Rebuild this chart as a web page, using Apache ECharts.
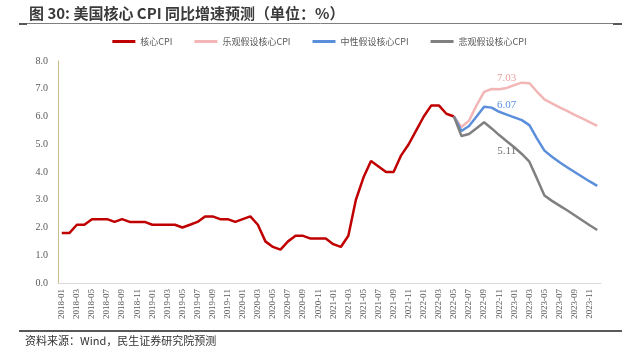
<!DOCTYPE html>
<html>
<head>
<meta charset="utf-8">
<script src="https://cdn.jsdelivr.net/npm/echarts@6/dist/echarts.min.js"></script>
<style>
html,body{margin:0;padding:0;background:#fff;}
#c{width:639px;height:358px;}
</style>
</head>
<body>
<div id="c"></div>
<script>
// ---- data ----
var months = (function(){
  var out = [];
  for (var y = 2018; y <= 2023; y++) {
    for (var m = 1; m <= 12; m++) out.push(y + '-' + (m < 10 ? '0' + m : m));
  }
  return out;
})();
var seriesNames = ['核心CPI', '乐观假设核心CPI', '中性假设核心CPI', '悲观假设核心CPI'];
// 核心CPI: 2018-01 .. 2022-05
var coreCPI = [
  1.8,1.8,2.1,2.1,2.3,2.3,2.3,2.2,2.3,2.2,2.2,2.2,
  2.1,2.1,2.1,2.1,2.0,2.1,2.2,2.4,2.4,2.3,2.3,2.2,
  2.3,2.4,2.1,1.5,1.3,1.2,1.5,1.7,1.7,1.6,1.6,1.6,
  1.4,1.3,1.7,3.0,3.8,4.4,4.2,4.0,4.0,4.6,5.0,5.5,
  6.0,6.4,6.4,6.1,6.0
];
// forecasts: 2022-05 .. 2023-12
var optimistic = [6.0,5.62,5.85,6.4,6.89,6.99,6.98,7.03,7.13,7.22,7.2,6.9,6.62,6.47,6.33,6.2,6.06,5.93,5.8,5.66];
var neutral    = [6.0,5.48,5.66,6.0,6.35,6.32,6.17,6.07,5.97,5.87,5.69,5.21,4.77,4.55,4.35,4.17,4.0,3.83,3.66,3.5];
var pessimistic= [6.0,5.3,5.37,5.58,5.79,5.57,5.33,5.11,4.89,4.65,4.37,3.77,3.15,2.96,2.79,2.62,2.44,2.26,2.08,1.91];
var forecastStart = '2022-05';
var labelMonth = '2022-12';
var yTicks = [0,1,2,3,4,5,6,7,8];

// ---- build ----
var startIdx = months.indexOf(forecastStart);
var labelIdx = months.indexOf(labelMonth);
function pad(arr, start){
  var out = [];
  for (var i = 0; i < months.length; i++) {
    var k = i - start;
    out.push(k >= 0 && k < arr.length ? arr[k] : '-');
  }
  return out;
}
function withLabel(arr, pos, color){
  return arr.map(function(v, i){
    if (i === labelIdx) {
      return {value: v, label: {show: true, position: pos, distance: 4, color: color, fontFamily: 'Liberation Serif', fontSize: 11, formatter: function(p){ return Number(p.value).toFixed(2); }}};
    }
    return v;
  });
}
var colors = ['#C00000', '#F2B6B6', '#5B8FDB', '#808080'];
var FONT = '"Liberation Serif", "Noto Sans CJK SC", serif';

var chart = echarts.init(document.getElementById('c'), null, {renderer: 'canvas'});
function lineSeries(name, data, color, z){
  return {name: name, type: 'line', data: data, symbol: 'circle', symbolSize: 0.01, showSymbol: true,
    itemStyle: {color: color}, lineStyle: {width: 2.5, color: color}, z: z};
}
chart.setOption({
  animation: false,
  backgroundColor: '#fff',
  color: colors,
  title: {
    text: '图 30: 美国核心 CPI 同比增速预测（单位：%）',
    left: 24, top: 1,
    textStyle: {fontFamily: '"Noto Sans CJK SC"', fontSize: 15, fontWeight: 'bold', color: '#3a3a3a'}
  },
  graphic: [
    {type: 'line', shape: {x1: 19, y1: 23.5, x2: 622, y2: 23.5}, style: {stroke: '#7f7f7f', lineWidth: 1}},
    {type: 'line', shape: {x1: 19, y1: 24, x2: 27, y2: 24}, style: {stroke: '#595959', lineWidth: 2}},
    {type: 'line', shape: {x1: 613, y1: 24, x2: 622, y2: 24}, style: {stroke: '#595959', lineWidth: 2}},
    {type: 'line', shape: {x1: 19, y1: 331, x2: 622, y2: 331}, style: {stroke: '#595959', lineWidth: 2}},
    {type: 'text', left: 25, top: 335, style: {text: '资料来源：Wind，民生证券研究院预测', fontFamily: '"Noto Sans CJK SC"', fontSize: 11, fill: '#333'}}
  ],
  legend: {
    top: 32, left: 'center',
    itemWidth: 23, itemHeight: 3, itemGap: 22,
    icon: 'rect',
    data: seriesNames,
    textStyle: {fontFamily: '"Noto Sans CJK SC"', fontSize: 9, color: '#595959'}
  },
  grid: {left: 58, right: 38, top: 61, bottom: 75},
  xAxis: {
    type: 'category',
    boundaryGap: true,
    data: months,
    axisLine: {lineStyle: {color: '#D9D9D9', width: 1}},
    axisTick: {show: false},
    axisLabel: {interval: 1, rotate: 90, fontFamily: FONT, fontSize: 9, color: '#595959', margin: 6}
  },
  yAxis: {
    type: 'value',
    min: yTicks[0], max: yTicks[yTicks.length - 1], interval: 1,
    splitLine: {show: false},
    axisLine: {show: true, lineStyle: {color: '#C9BC8E', width: 1}},
    axisTick: {show: false},
    axisLabel: {fontFamily: FONT, fontSize: 10, color: '#595959', margin: 10, formatter: function(v){ return v.toFixed(1); }}
  },
  series: [
    lineSeries(seriesNames[0], pad(coreCPI, 0), colors[0], 2),
    lineSeries(seriesNames[1], withLabel(pad(optimistic, startIdx), 'top', '#E8A0A0'), colors[1], 3),
    lineSeries(seriesNames[2], withLabel(pad(neutral, startIdx), 'top', colors[2]), colors[2], 4),
    lineSeries(seriesNames[3], withLabel(pad(pessimistic, startIdx), 'bottom', '#6f6f6f'), colors[3], 5)
  ]
});
</script>
</body>
</html>
